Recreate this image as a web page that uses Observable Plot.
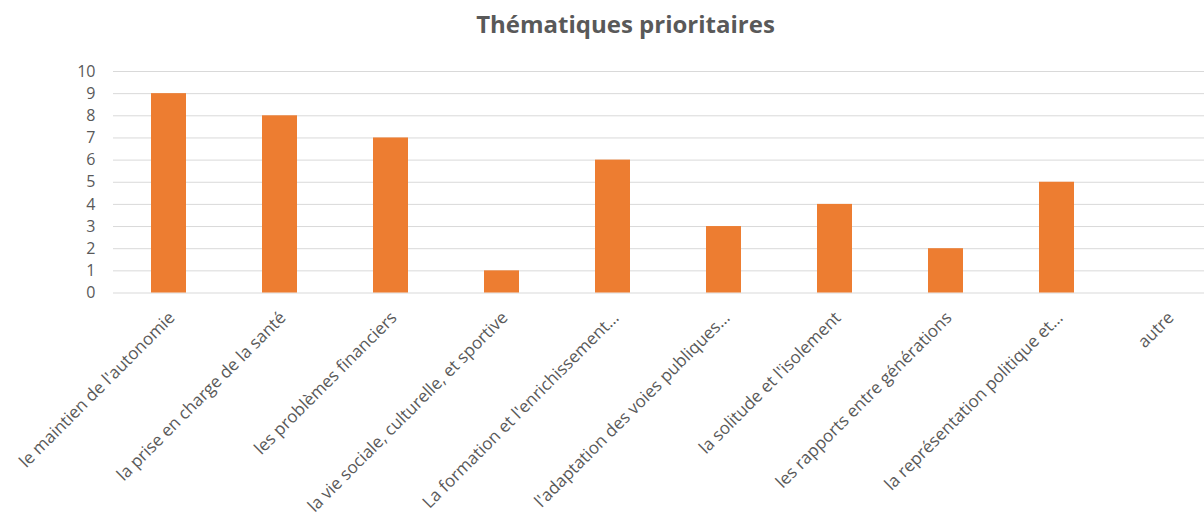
<!DOCTYPE html>
<html>
<head>
<meta charset="utf-8">
<script src="https://cdn.jsdelivr.net/npm/d3@7"></script>
<script src="https://cdn.jsdelivr.net/npm/@observablehq/plot@0.6"></script>
<style>
  html, body { margin: 0; padding: 0; background: #fff; overflow: hidden; }
  #wrap { position: relative; width: 1204px; height: 519px; }
  #title { position: absolute; left: 0; width: 1251px; top: 7px; text-align: center;
           font-family: "Open Sans", sans-serif; font-weight: bold; font-size: 24px; color: #595959; }
  #chart { position: absolute; left: 0; top: 0; }
</style>
</head>
<body>
<div id="wrap">
  <div id="chart"></div>
  <div id="title">Thématiques prioritaires</div>
</div>
<script>
const categories = [
  "le maintien de l'autonomie",
  "la prise en charge de la santé",
  "les problèmes financiers",
  "la vie sociale, culturelle, et sportive",
  "La formation et l'enrichissement…",
  "l'adaptation des voies publiques…",
  "la solitude et l'isolement",
  "les rapports entre générations",
  "la représentation politique et…",
  "autre"
];
const values = [9, 8, 7, 1, 6, 3, 4, 2, 5, 0];
const yTicks = [0, 1, 2, 3, 4, 5, 6, 7, 8, 9, 10];

const data = categories.map((c, i) => ({category: c, value: values[i]}));

const chart = Plot.plot({
  width: 1204,
  height: 519,
  marginLeft: 113,
  marginRight: -19,
  marginTop: 71,
  marginBottom: 226.5,
  style: {fontFamily: "'Open Sans', sans-serif", color: "#595959", background: "transparent"},
  x: {domain: categories, paddingInner: 0.685, paddingOuter: 0.3425, label: null},
  y: {domain: [0, 10], label: null},
  marks: [
    Plot.ruleY(yTicks, {stroke: "#d9d9d9", strokeWidth: 1}),
    Plot.barY(data, {x: "category", y: "value", fill: "#ED7D31"}),
    Plot.axisY({ticks: yTicks, tickSize: 0, tickPadding: 18, fontSize: 16, fill: "#595959", label: null}),
    Plot.axisX({tickSize: 0, tickPadding: 22, tickRotate: -45, fontSize: 17, fill: "#595959", dx: 3, label: null})
  ]
});
document.getElementById("chart").appendChild(chart);
</script>
</body>
</html>
